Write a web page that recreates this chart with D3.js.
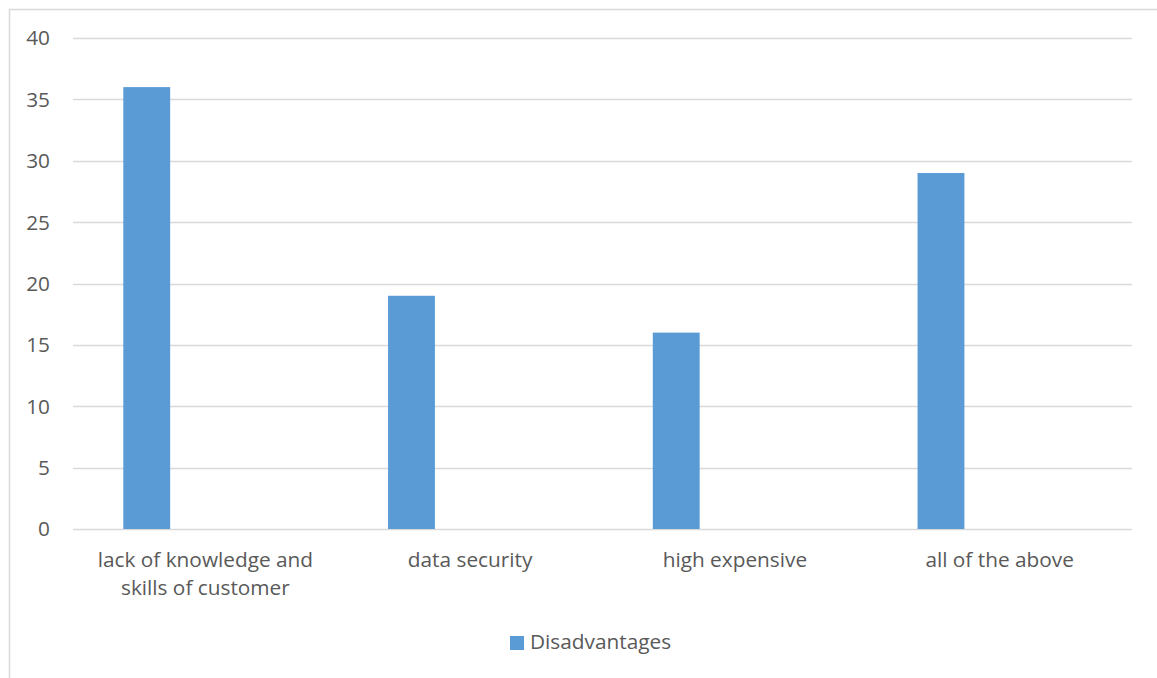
<!DOCTYPE html>
<html>
<head>
<meta charset="utf-8">
<script src="https://cdn.jsdelivr.net/npm/d3@7"></script>
<style>
  html, body { margin: 0; padding: 0; background: #fff; }
  svg { display: block; }
  text { font-family: "Open Sans", Lato, sans-serif; fill: #595959; }
</style>
</head>
<body>
<svg id="chart" width="1157" height="678"></svg>
<script>
// Survey results: perceived disadvantages
const categories = [
  ["lack of knowledge and", "skills of customer"],
  ["data security"],
  ["high expensive"],
  ["all of the above"]
];
const seriesName = "Disadvantages";
const values = [36, 19, 16, 29];
const yTicks = [0, 5, 10, 15, 20, 25, 30, 35, 40];

const svg = d3.select("#chart");
const W = 1157, H = 678;
const plot = { left: 73, right: 1132, top: 38, bottom: 529 };
const fontSize = 20.8;

// chart frame
svg.append("rect")
  .attr("x", 9.5).attr("y", 9.5)
  .attr("width", W + 10).attr("height", H + 10)
  .attr("fill", "none").attr("stroke", "#d9d9d9").attr("stroke-width", 1.5);

const keys = categories.map((c, i) => i);
const x = d3.scaleBand().domain(keys).range([plot.left, plot.right]).padding(0);
const y = d3.scaleLinear().domain([0, 40]).range([plot.bottom, plot.top]);

// horizontal gridlines
svg.append("g").selectAll("line").data(yTicks).join("line")
  .attr("x1", plot.left).attr("x2", plot.right)
  .attr("y1", d => Math.round(y(d)) + 0.5).attr("y2", d => Math.round(y(d)) + 0.5)
  .attr("stroke", "#d9d9d9").attr("stroke-width", 1.5);

// y tick labels
svg.append("g").selectAll("text").data(yTicks).join("text")
  .attr("x", 50).attr("y", d => y(d))
  .attr("dy", "0.36em")
  .attr("text-anchor", "end")
  .attr("font-size", fontSize)
  .text(d => d);

// bars sit in the left part of each category slot
const barOffset = 0.19, barWidth = 0.177;
svg.append("g").selectAll("rect").data(values).join("rect")
  .attr("x", (d, i) => x(i) + x.bandwidth() * barOffset)
  .attr("width", x.bandwidth() * barWidth)
  .attr("y", d => y(d))
  .attr("height", d => y(0) - y(d))
  .attr("fill", "#5b9bd5");

// category labels
const lab = svg.append("g").selectAll("text").data(categories).join("text")
  .attr("x", (d, i) => x(i) + x.bandwidth() / 2)
  .attr("y", 567)
  .attr("text-anchor", "middle")
  .attr("font-size", fontSize);
lab.selectAll("tspan").data(d => d).join("tspan")
  .attr("x", function() { return this.parentNode.getAttribute("x"); })
  .attr("dy", (d, i) => i === 0 ? 0 : 28)
  .text(d => d);

// legend
const legend = svg.append("g");
legend.append("rect")
  .attr("x", 510).attr("y", 636).attr("width", 14).attr("height", 14)
  .attr("fill", "#5b9bd5");
legend.append("text")
  .attr("x", 530).attr("y", 649)
  .attr("font-size", fontSize)
  .text(seriesName);
</script>
</body>
</html>
